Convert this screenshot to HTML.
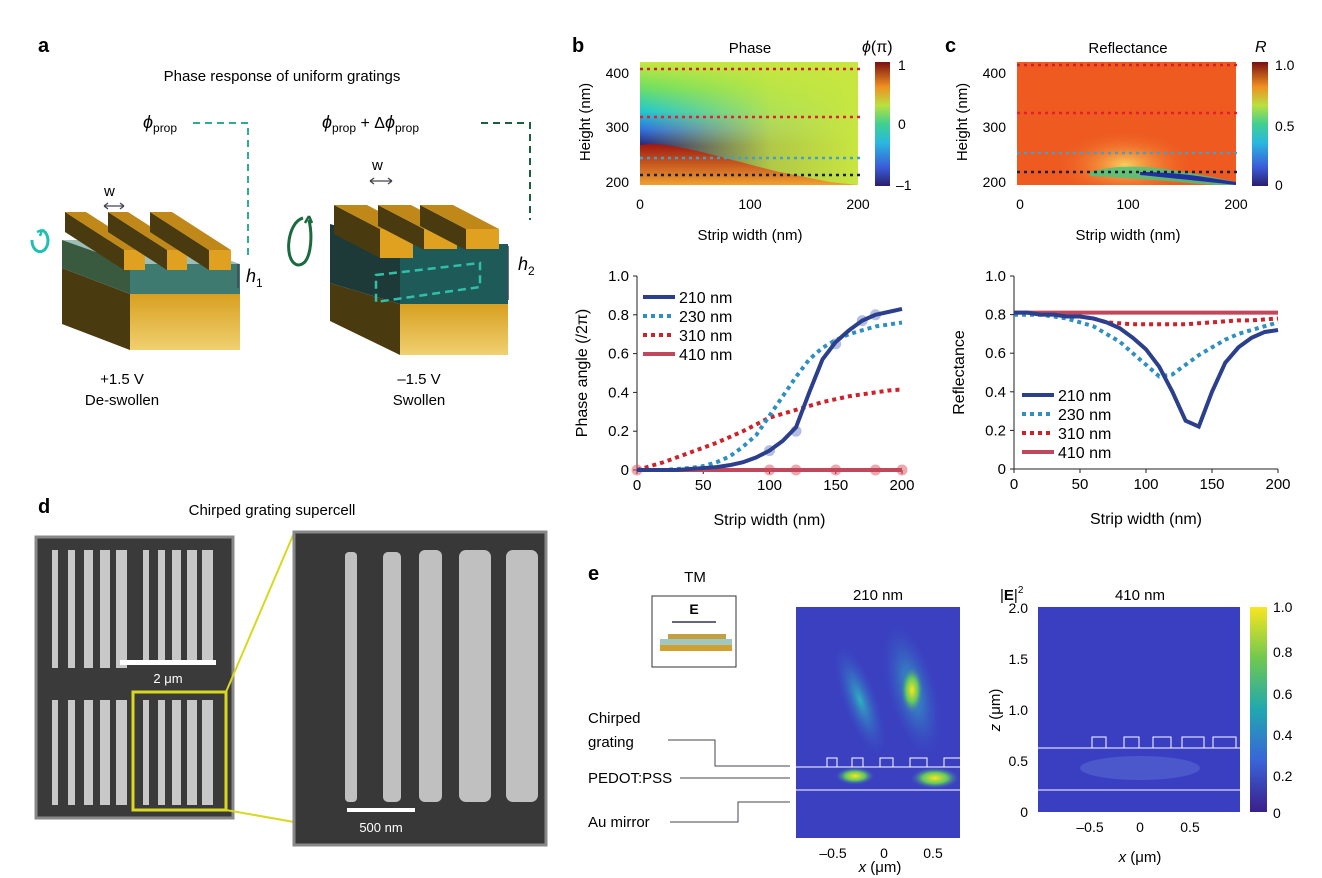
<!DOCTYPE html>
<html><head><meta charset="utf-8"><style>
body{margin:0;background:#fff;}
svg{display:block;font-family:"Liberation Sans",sans-serif;}
</style></head><body>
<svg id="fig" width="1322" height="878" viewBox="0 0 1322 878">
<defs>
<linearGradient id="jet" x1="0" y1="1" x2="0" y2="0">
<stop offset="0" stop-color="#2a1f6e"/><stop offset="0.15" stop-color="#3b5bd8"/><stop offset="0.35" stop-color="#2ab8e0"/><stop offset="0.5" stop-color="#40d090"/><stop offset="0.65" stop-color="#b8e040"/><stop offset="0.8" stop-color="#f09020"/><stop offset="1" stop-color="#7a1010"/>
</linearGradient>
<linearGradient id="vir" x1="0" y1="1" x2="0" y2="0">
<stop offset="0" stop-color="#3b1f8a"/><stop offset="0.25" stop-color="#3a64d8"/><stop offset="0.5" stop-color="#20a8b0"/><stop offset="0.75" stop-color="#70c850"/><stop offset="1" stop-color="#f8e620"/>
</linearGradient>
<linearGradient id="phbg" x1="0" y1="0" x2="0" y2="1">
<stop offset="0" stop-color="#c8e640"/><stop offset="0.2" stop-color="#70e060"/><stop offset="0.4" stop-color="#20c8d0"/><stop offset="0.55" stop-color="#2f70e0"/><stop offset="0.68" stop-color="#2a2070"/>
</linearGradient>
<linearGradient id="phbg2" x1="0" y1="0" x2="1" y2="0">
<stop offset="0" stop-color="#c8e640" stop-opacity="0"/><stop offset="0.6" stop-color="#c8e640" stop-opacity="0.85"/><stop offset="1" stop-color="#c8e640"/>
</linearGradient>
<linearGradient id="red" x1="0" y1="0" x2="0" y2="1">
<stop offset="0" stop-color="#a01810"/><stop offset="1" stop-color="#f0a030"/>
</linearGradient>
<radialGradient id="blob" cx="0.5" cy="0.5" r="0.5"><stop offset="0" stop-color="#f8d060"/><stop offset="1" stop-color="#f06020" stop-opacity="0"/></radialGradient>
<radialGradient id="yb" cx="0.5" cy="0.5" r="0.5"><stop offset="0" stop-color="#f8e620"/><stop offset="0.5" stop-color="#60c860"/><stop offset="1" stop-color="#3a50c8" stop-opacity="0"/></radialGradient>
<radialGradient id="cb" cx="0.5" cy="0.5" r="0.5"><stop offset="0" stop-color="#30b0c0"/><stop offset="1" stop-color="#3a50c8" stop-opacity="0"/></radialGradient>
<linearGradient id="gold" x1="0" y1="0" x2="0" y2="1"><stop offset="0" stop-color="#d8a020"/><stop offset="1" stop-color="#f0d070"/></linearGradient>
<clipPath id="clipb"><rect x="640" y="62" width="218" height="123"/></clipPath>
<clipPath id="clipc"><rect x="1017" y="62" width="219" height="123"/></clipPath>
</defs>

<!-- Panel a -->
<text x="38" y="52" font-size="20" font-weight="bold">a</text>
<text x="282" y="81" font-size="15" text-anchor="middle">Phase response of uniform gratings</text>
<text x="143" y="128" font-size="18" font-style="italic">ϕ<tspan font-size="12" font-style="normal" dy="4">prop</tspan></text>
<path d="M193 123 H248 V260" fill="none" stroke="#2ab090" stroke-width="2" stroke-dasharray="7,5"/>
<text x="322" y="128" font-size="18" font-style="italic">ϕ<tspan font-size="12" font-style="normal" dy="4">prop</tspan><tspan font-style="normal" font-size="16" dy="-4"> + Δ</tspan>ϕ<tspan font-size="12" font-style="normal" dy="4">prop</tspan></text>
<path d="M481 123 H530 V220" fill="none" stroke="#1a6040" stroke-width="2" stroke-dasharray="7,5"/>

<g>
<polygon points="130,294 240,294 240,350 130,350" fill="url(#gold)"/>
<polygon points="130,294 130,350 62,324 62,268" fill="#4a3a10"/>
<polygon points="130,264 240,264 172,240 62,240" fill="#7aa8a0" opacity="0.75"/>
<polygon points="130,264 130,294 62,268 62,240" fill="#3a5a40"/>
<polygon points="130,264 240,264 240,294 130,294" fill="#3e7a70"/>
<g>
<polygon points="124,250 124,270 65,232 65,212" fill="#4a3a10"/><polygon points="124,250 145,250 86,212 65,212" fill="#c08818"/><rect x="124" y="250" width="21" height="20" fill="#e0a020"/>
<polygon points="167,250 167,270 108,232 108,212" fill="#4a3a10"/><polygon points="167,250 187,250 128,212 108,212" fill="#c08818"/><rect x="167" y="250" width="20" height="20" fill="#e0a020"/>
<polygon points="209,250 209,270 150,232 150,212" fill="#4a3a10"/><polygon points="209,250 231,250 172,212 150,212" fill="#c08818"/><rect x="209" y="250" width="22" height="20" fill="#e0a020"/>
</g></g>
<text x="104" y="196" font-size="15">w</text>
<path d="M104 206 H124 M104 206 l4 -3 M104 206 l4 3 M124 206 l-4 -3 M124 206 l-4 3" stroke="#445" stroke-width="1.3" fill="none"/>
<path d="M32 240 a8 11 0 1 0 10 -10" fill="none" stroke="#20c0b0" stroke-width="3"/>
<path d="M42 230 l-2 6 M42 230 l-5 2" stroke="#20c0b0" stroke-width="2.5"/>
<path d="M238 264 V288" stroke="#445" stroke-width="1.5"/>
<text x="246" y="282" font-size="18" font-style="italic">h<tspan font-size="12" font-style="normal" dy="5">1</tspan></text>
<text x="122" y="384" font-size="15" text-anchor="middle">+1.5 V</text>
<text x="122" y="405" font-size="15" text-anchor="middle">De-swollen</text>

<g>
<polygon points="400,304 508,304 508,355 400,355" fill="url(#gold)"/>
<polygon points="400,304 400,355 330,321 330,283" fill="#4a3a10"/>
<polygon points="400,244 400,304 330,283 330,224" fill="#1e3a38"/>
<polygon points="400,244 508,244 508,304 400,304" fill="#1e5a58"/>
<polygon points="376,275 480,263 480,287 376,302" fill="none" stroke="#30c0a8" stroke-width="2.5" stroke-dasharray="8,5"/>
<g>
<polygon points="380,229 380,258 334,234 334,205" fill="#4a3a10"/><polygon points="380,229 413,229 367,205 334,205" fill="#c08818"/><rect x="380" y="229" width="33" height="29" fill="#e0a020"/>
<polygon points="424,229 424,250 378,226 378,205" fill="#4a3a10"/><polygon points="424,229 457,229 411,205 378,205" fill="#c08818"/><rect x="424" y="229" width="33" height="20" fill="#e0a020"/>
<polygon points="466,229 466,250 420,226 420,205" fill="#4a3a10"/><polygon points="466,229 499,229 453,205 420,205" fill="#c08818"/><rect x="466" y="229" width="33" height="20" fill="#e0a020"/>
</g></g>
<text x="372" y="170" font-size="15">w</text>
<path d="M370 181 H392 M370 181 l4 -3 M370 181 l4 3 M392 181 l-4 -3 M392 181 l-4 3" stroke="#445" stroke-width="1.3" fill="none"/>
<path d="M303 218 C287 222 283 262 298 265 C311 265 313 238 309 220" fill="none" stroke="#1a6a40" stroke-width="3"/>
<path d="M309 216 l-4 7 M309 216 l3 7" stroke="#1a6a40" stroke-width="2.5"/>
<path d="M508 246 V300" stroke="#445" stroke-width="1.5"/>
<text x="518" y="270" font-size="18" font-style="italic">h<tspan font-size="12" font-style="normal" dy="5">2</tspan></text>
<text x="419" y="384" font-size="15" text-anchor="middle">–1.5 V</text>
<text x="419" y="405" font-size="15" text-anchor="middle">Swollen</text>

<!-- Panel b heatmap -->
<text x="572" y="52" font-size="20" font-weight="bold">b</text>
<text x="750" y="53" font-size="15" text-anchor="middle">Phase</text>
<g clip-path="url(#clipb)">
<rect x="640" y="62" width="218" height="123" fill="url(#phbg)"/>
<rect x="640" y="62" width="218" height="123" fill="url(#phbg2)"/>
<path d="M640 145 C670 140 720 158 780 172 L830 182 L858 185 L640 185 Z" fill="url(#red)"/>
</g>
<rect x="875" y="62" width="15" height="124" fill="url(#jet)"/>
<text x="862" y="52" font-size="16"><tspan font-style="italic">ϕ</tspan>(π)</text>
<text x="898" y="70" font-size="14">1</text>
<text x="898" y="129" font-size="14">0</text>
<text x="896" y="190" font-size="14">–1</text>
<text x="629" y="78" font-size="14" text-anchor="end">400</text>
<text x="629" y="132" font-size="14" text-anchor="end">300</text>
<text x="629" y="187" font-size="14" text-anchor="end">200</text>
<text x="640" y="209" font-size="14" text-anchor="middle">0</text>
<text x="750" y="209" font-size="14" text-anchor="middle">100</text>
<text x="858" y="209" font-size="14" text-anchor="middle">200</text>
<text x="750" y="240" font-size="15" text-anchor="middle">Strip width (nm)</text>
<text transform="translate(590,122) rotate(-90)" font-size="15" text-anchor="middle">Height (nm)</text>
<g stroke-width="2.5" stroke-dasharray="3,4">
<line x1="640" y1="69" x2="862" y2="69" stroke="#d02030"/>
<line x1="640" y1="117" x2="862" y2="117" stroke="#e02030"/>
<line x1="640" y1="158" x2="862" y2="158" stroke="#40a0d0"/>
<line x1="640" y1="175" x2="862" y2="175" stroke="#1a2040"/>
</g>

<!-- Panel c heatmap -->
<text x="945" y="52" font-size="20" font-weight="bold">c</text>
<text x="1128" y="53" font-size="15" text-anchor="middle">Reflectance</text>
<g clip-path="url(#clipc)">
<rect x="1017" y="62" width="219" height="123" fill="#ee5a20"/>
<ellipse cx="1125" cy="165" rx="70" ry="35" fill="url(#blob)"/>
<path d="M1090 172 C1130 160 1180 170 1236 182 L1236 187 C1180 182 1130 178 1090 176Z" fill="#40c880" opacity="0.8"/>
<path d="M1140 172 C1180 172 1210 178 1236 182 L1236 185 C1200 181 1170 178 1140 175Z" fill="#2030a0"/>
</g>
<rect x="1252" y="62" width="16" height="124" fill="url(#jet)"/>
<text x="1255" y="52" font-size="16" font-style="italic">R</text>
<text x="1275" y="70" font-size="14">1.0</text>
<text x="1275" y="131" font-size="14">0.5</text>
<text x="1275" y="190" font-size="14">0</text>
<text x="1006" y="78" font-size="14" text-anchor="end">400</text>
<text x="1006" y="132" font-size="14" text-anchor="end">300</text>
<text x="1006" y="187" font-size="14" text-anchor="end">200</text>
<text x="1020" y="209" font-size="14" text-anchor="middle">0</text>
<text x="1128" y="209" font-size="14" text-anchor="middle">100</text>
<text x="1236" y="209" font-size="14" text-anchor="middle">200</text>
<text x="1128" y="240" font-size="15" text-anchor="middle">Strip width (nm)</text>
<text transform="translate(967,122) rotate(-90)" font-size="15" text-anchor="middle">Height (nm)</text>
<g stroke-width="2.5" stroke-dasharray="3,4">
<line x1="1017" y1="65" x2="1240" y2="65" stroke="#d02030"/>
<line x1="1017" y1="113" x2="1240" y2="113" stroke="#e02030"/>
<line x1="1017" y1="153" x2="1240" y2="153" stroke="#40a0d0"/>
<line x1="1017" y1="172" x2="1240" y2="172" stroke="#1a2040"/>
</g>

<g id="lineb"></g>
<g id="linec"></g>

<!-- Panel d -->
<text x="38" y="513" font-size="20" font-weight="bold">d</text>
<text x="272" y="515" font-size="15" text-anchor="middle">Chirped grating supercell</text>
<rect x="36" y="537" width="197" height="281" fill="#3a3a3a" stroke="#888" stroke-width="3"/>
<g fill="#c8c8c8">
<rect x="52" y="550" width="6" height="118"/><rect x="68" y="550" width="7" height="118"/><rect x="84" y="550" width="9" height="118"/><rect x="100" y="550" width="10" height="118"/><rect x="116" y="550" width="11" height="118"/>
<rect x="143" y="550" width="6" height="110"/><rect x="158" y="550" width="7" height="110"/><rect x="172" y="550" width="9" height="110"/><rect x="187" y="550" width="10" height="110"/><rect x="202" y="550" width="11" height="110"/>
<rect x="52" y="700" width="6" height="105"/><rect x="68" y="700" width="7" height="105"/><rect x="84" y="700" width="9" height="105"/><rect x="100" y="700" width="10" height="105"/><rect x="116" y="700" width="11" height="105"/>
<rect x="143" y="700" width="6" height="105"/><rect x="158" y="700" width="7" height="105"/><rect x="172" y="700" width="9" height="105"/><rect x="187" y="700" width="10" height="105"/><rect x="202" y="700" width="11" height="105"/>
</g>
<rect x="120" y="660" width="96" height="5" fill="#fff"/>
<text x="168" y="683" font-size="13" fill="#fff" text-anchor="middle">2 μm</text>
<rect x="133" y="692" width="93" height="118" fill="none" stroke="#d8d820" stroke-width="3"/>
<line x1="226" y1="692" x2="294" y2="533" stroke="#d8d820" stroke-width="2"/>
<line x1="226" y1="810" x2="294" y2="822" stroke="#d8d820" stroke-width="2"/>
<rect x="294" y="532" width="252" height="313" fill="#383838" stroke="#888" stroke-width="3"/>
<g fill="#c0c0c0">
<rect x="345" y="552" width="12" height="250" rx="4"/><rect x="383" y="552" width="18" height="250" rx="5"/><rect x="419" y="550" width="23" height="252" rx="6"/><rect x="459" y="550" width="32" height="252" rx="7"/><rect x="506" y="550" width="32" height="252" rx="7"/>
</g>
<rect x="347" y="808" width="68" height="4" fill="#fff"/>
<text x="381" y="832" font-size="13" fill="#fff" text-anchor="middle">500 nm</text>

<!-- Panel e -->
<text x="588" y="580" font-size="20" font-weight="bold">e</text>
<text x="695" y="582" font-size="15" text-anchor="middle">TM</text>
<rect x="652" y="596" width="84" height="71" fill="#fff" stroke="#333"/>
<text x="694" y="614" font-size="14" font-weight="bold" text-anchor="middle">E</text>
<path d="M672 622 H716" stroke="#335" stroke-width="1.5"/>
<rect x="668" y="634" width="58" height="5" fill="#c0a040"/><rect x="660" y="639" width="72" height="6" fill="#a0c8c0"/><rect x="660" y="645" width="72" height="6" fill="#d0a030"/>
<text x="588" y="723" font-size="15">Chirped</text>
<text x="588" y="747" font-size="15">grating</text>
<path d="M668 740 H715 V766 H790" fill="none" stroke="#445" stroke-width="1"/>
<text x="588" y="783" font-size="15">PEDOT:PSS</text>
<path d="M680 778 H790" stroke="#445"/>
<text x="588" y="827" font-size="15">Au mirror</text>
<path d="M670 822 H738 V802 H790" fill="none" stroke="#445"/>
<g>
<rect x="796" y="607" width="164" height="231" fill="#3a40c0"/>
<ellipse cx="912" cy="690" rx="25" ry="70" fill="url(#cb)" transform="rotate(-15 912 690)"/>
<ellipse cx="860" cy="700" rx="18" ry="60" fill="url(#cb)" transform="rotate(-20 860 700)"/>
<ellipse cx="912" cy="690" rx="12" ry="25" fill="url(#yb)"/>
<ellipse cx="855" cy="776" rx="20" ry="9" fill="url(#yb)"/>
<ellipse cx="935" cy="778" rx="25" ry="11" fill="url(#yb)"/>
<line x1="796" y1="767" x2="960" y2="767" stroke="#fff"/><line x1="796" y1="790" x2="960" y2="790" stroke="#fff"/>
<path d="M827 767 v-9 h10 v9 M852 767 v-9 h11 v9 M880 767 v-9 h13 v9 M910 767 v-9 h17 v9 M944 767 v-9 h16" fill="none" stroke="#fff"/>
</g>
<text x="878" y="600" font-size="15" text-anchor="middle">210 nm</text>
<text x="833" y="858" font-size="14" text-anchor="middle">–0.5</text><text x="884" y="858" font-size="14" text-anchor="middle">0</text><text x="933" y="858" font-size="14" text-anchor="middle">0.5</text>
<text x="880" y="872" font-size="15" text-anchor="middle"><tspan font-style="italic">x</tspan> (μm)</text>
<g>
<rect x="1038" y="607" width="202" height="205" fill="#3a3ec0"/>
<ellipse cx="1140" cy="768" rx="60" ry="12" fill="#4a58cc"/>
<line x1="1038" y1="748" x2="1240" y2="748" stroke="#fff"/><line x1="1038" y1="790" x2="1240" y2="790" stroke="#fff"/>
<path d="M1092 748 v-11 h14 v11 M1124 748 v-11 h15 v11 M1153 748 v-11 h18 v11 M1182 748 v-11 h22 v11 M1213 748 v-11 h23 v11" fill="none" stroke="#fff"/>
</g>
<text x="1000" y="600" font-size="15">|<tspan font-weight="bold">E</tspan>|<tspan font-size="10" dy="-7">2</tspan></text>
<text x="1140" y="600" font-size="15" text-anchor="middle">410 nm</text>
<g font-size="14" text-anchor="end">
<text x="1028" y="613">2.0</text><text x="1028" y="664">1.5</text><text x="1028" y="715">1.0</text><text x="1028" y="766">0.5</text><text x="1028" y="817">0</text>
</g>
<text transform="translate(1000,710) rotate(-90)" font-size="15" text-anchor="middle"><tspan font-style="italic">z</tspan> (μm)</text>
<text x="1090" y="832" font-size="14" text-anchor="middle">–0.5</text><text x="1140" y="832" font-size="14" text-anchor="middle">0</text><text x="1190" y="832" font-size="14" text-anchor="middle">0.5</text>
<text x="1140" y="862" font-size="15" text-anchor="middle"><tspan font-style="italic">x</tspan> (μm)</text>
<rect x="1250" y="607" width="17" height="205" fill="url(#vir)"/>
<g font-size="14"><text x="1273" y="612">1.0</text><text x="1273" y="657">0.8</text><text x="1273" y="699">0.6</text><text x="1273" y="740">0.4</text><text x="1273" y="781">0.2</text><text x="1273" y="818">0</text></g>
</svg>
<script>
const widths=[0,10,20,30,40,50,60,70,80,90,100,110,120,130,140,150,160,170,180,190,200];
const phase210=[0,0,0,0,0.005,0.01,0.015,0.025,0.04,0.065,0.1,0.15,0.22,0.4,0.57,0.66,0.72,0.77,0.8,0.815,0.83];
const phase230=[0,0,0,0.005,0.01,0.02,0.04,0.07,0.12,0.18,0.28,0.38,0.48,0.57,0.63,0.67,0.7,0.72,0.74,0.75,0.76];
const phase310=[0,0.02,0.04,0.065,0.09,0.115,0.14,0.17,0.2,0.235,0.27,0.29,0.31,0.33,0.35,0.365,0.38,0.39,0.4,0.41,0.415];
const phase410=[0,0,0,0,0,0,0,0,0,0,0,0,0,0,0,0,0,0,0,0,0];
const dots210X=[100,120,150,170,180];
const dots210Y=[0.1,0.2,0.65,0.77,0.8];
const dots410X=[0,100,120,150,180,200];
const dots410Y=[0,0,0,0,0,0];
const refl210=[0.81,0.81,0.8,0.8,0.79,0.79,0.78,0.76,0.73,0.68,0.62,0.53,0.4,0.25,0.22,0.4,0.55,0.63,0.68,0.71,0.72];
const refl230=[0.8,0.8,0.8,0.79,0.78,0.76,0.74,0.7,0.66,0.6,0.54,0.48,0.49,0.54,0.59,0.63,0.67,0.7,0.72,0.74,0.76];
const refl310=[0.8,0.8,0.8,0.8,0.79,0.79,0.78,0.76,0.755,0.75,0.75,0.75,0.75,0.75,0.755,0.76,0.765,0.77,0.77,0.775,0.78];
const refl410=[0.81,0.81,0.81,0.81,0.81,0.81,0.81,0.81,0.81,0.81,0.81,0.81,0.81,0.81,0.81,0.81,0.81,0.81,0.81,0.81,0.81];
const xTicks=[0,50,100,150,200];
const yTicks=[0,0.2,0.4,0.6,0.8,1.0];
const seriesNames=["210 nm","230 nm","310 nm","410 nm"];
const NS="http://www.w3.org/2000/svg";
const colors=["#2b3f8c","#2e8fc0","#d0202a","#c0485a"];
const dashes=[null,"4,4","4,4",null];
function mk(g,tag,attrs){const e=document.createElementNS(NS,tag);for(const k in attrs)e.setAttribute(k,attrs[k]);g.appendChild(e);return e;}
function chart(gid,x0,x1,y0,y1,series,ytitle,legX,legY,dots){
 const g=document.getElementById(gid);
 const sx=v=>x0+(v/200)*(x1-x0), sy=v=>y0-(v/1)*(y0-y1);
 mk(g,"path",{d:`M${x0} ${y1} V${y0} H${x1}`,fill:"none",stroke:"#222","stroke-width":1});
 xTicks.forEach(t=>{mk(g,"line",{x1:sx(t),x2:sx(t),y1:y0,y2:y0+4,stroke:"#222"});const tx=mk(g,"text",{x:sx(t),y:y0+20,"font-size":15,"text-anchor":"middle"});tx.textContent=t;
  
  });
 yTicks.forEach(t=>{mk(g,"line",{x1:x0-4,x2:x0,y1:sy(t),y2:sy(t),stroke:"#222"});const tx=mk(g,"text",{x:x0-8,y:sy(t)+5,"font-size":15,"text-anchor":"end"});tx.textContent=t===0?"0":t.toFixed(1);
  
  });
 const xt=mk(g,"text",{x:(x0+x1)/2,y:y0+55,"font-size":16,"text-anchor":"middle"});xt.textContent="Strip width (nm)";
 
 
 const yt=mk(g,"text",{transform:`translate(${x0-50},${(y0+y1)/2}) rotate(-90)`,"font-size":16,"text-anchor":"middle"});yt.textContent=ytitle;
 
 
 if(dots){dots.forEach(d=>{d.x.forEach((v,i)=>{const c=mk(g,"circle",{cx:sx(v),cy:sy(d.y[i]),r:5.5,fill:d.c,opacity:0.5});
  
  });});}
 series.slice().reverse().forEach((s,ri)=>{const i=series.length-1-ri;
  const p=mk(g,"path",{d:s.map((v,j)=>(j?"L":"M")+sx(widths[j])+" "+sy(v)).join(" "),fill:"none",stroke:colors[i],"stroke-width":4});
  if(dashes[i])p.setAttribute("stroke-dasharray",dashes[i]);
  
  });
 seriesNames.forEach((n,i)=>{const y=legY+i*19;const l=mk(g,"line",{x1:legX,x2:legX+32,y1:y,y2:y,stroke:colors[i],"stroke-width":4});if(dashes[i])l.setAttribute("stroke-dasharray",dashes[i]);
  
  
  const t=mk(g,"text",{x:legX+36,y:y+6,"font-size":16});t.textContent=n;
  
  });
}
chart("lineb",637,902,470,276,[phase210,phase230,phase310,phase410],"Phase angle (/2π)",643,297,
 [{x:dots210X,y:dots210Y,c:"#6a80c8"},{x:dots410X,y:dots410Y,c:"#e05060"}]);
chart("linec",1014,1278,469,276,[refl210,refl230,refl310,refl410],"Reflectance",1022,395,null);
</script>
</body></html>
